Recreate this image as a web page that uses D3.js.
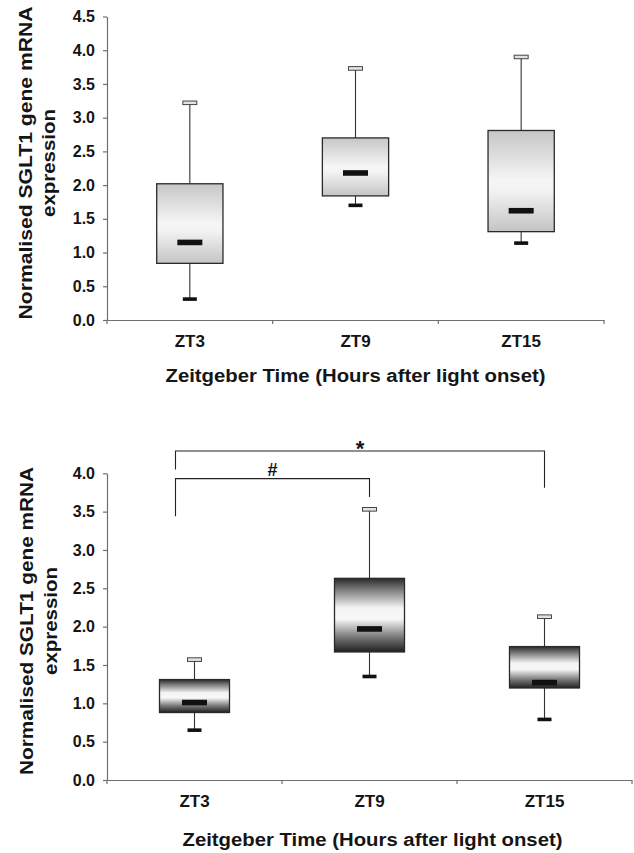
<!DOCTYPE html>
<html>
<head>
<meta charset="utf-8">
<script src="https://cdn.jsdelivr.net/npm/d3@7"></script>
<style>
  html, body { margin: 0; padding: 0; background: #fff; }
  svg { display: block; }
  text { font-family: "Liberation Sans", Arial, Helvetica, sans-serif; font-weight: bold; fill: #151515; }
</style>
</head>
<body>
<svg id="chart" width="634" height="853"></svg>
<script>
// ---------- data ----------
const categories = ["ZT3", "ZT9", "ZT15"];

// Panel A (upper)
const topMin    = [0.31, 1.70, 1.14];
const topQ1     = [0.84, 1.84, 1.31];
const topMedian = [1.15, 2.18, 1.62];
const topQ3     = [2.02, 2.70, 2.81];
const topMax    = [3.22, 3.73, 3.90];
const topTicks  = [0, 0.5, 1.0, 1.5, 2.0, 2.5, 3.0, 3.5, 4.0, 4.5];

// Panel B (lower)
const botMin    = [0.65, 1.35, 0.79];
const botQ1     = [0.88, 1.67, 1.20];
const botMedian = [1.01, 1.97, 1.27];
const botQ3     = [1.31, 2.63, 1.74];
const botMax    = [1.57, 3.53, 2.13];
const botTicks  = [0, 0.5, 1.0, 1.5, 2.0, 2.5, 3.0, 3.5, 4.0];

// significance brackets (lower panel): from/to category, bar level, leg ends (y units)
const sigLabels   = ["#", "*"];
const sigFrom     = ["ZT3", "ZT3"];
const sigTo       = ["ZT9", "ZT15"];
const sigLevel    = [3.93, 4.29];
const sigLeftEnd  = [3.44, 4.05];
const sigRightEnd = [3.69, 3.81];

const xTitle = "Zeitgeber Time (Hours after light onset)";
const yTitle1 = "Normalised SGLT1 gene mRNA";
const yTitle2 = "expression";

// ---------- drawing ----------
const svg = d3.select("#chart");
const defs = svg.append("defs");

const gLight = defs.append("linearGradient").attr("id", "gLight")
  .attr("x1", 0).attr("y1", 0).attr("x2", 0).attr("y2", 1);
[[0, "#c6c6c6"], [0.5, "#f6f6f6"], [0.6, "#f2f2f2"], [1, "#c4c4c4"]]
  .forEach(([o, c]) => gLight.append("stop").attr("offset", o).attr("stop-color", c));

const gDark = defs.append("linearGradient").attr("id", "gDark")
  .attr("x1", 0).attr("y1", 0).attr("x2", 0).attr("y2", 1);
[[0, "#2a2a2a"], [0.12, "#6a6a6a"], [0.4, "#f4f4f4"], [0.55, "#f8f8f8"], [0.8, "#777"], [1, "#202020"]]
  .forEach(([o, c]) => gDark.append("stop").attr("offset", o).attr("stop-color", c));

function drawPanel(p) {
  const x = d3.scaleBand().domain(categories).range([p.left, p.right]).padding(0);
  const y = d3.scaleLinear().domain([0, p.yMax]).range([p.bottom, p.top]);
  const g = svg.append("g");

  // y axis
  const ya = g.append("g").attr("transform", `translate(${p.left},0)`)
    .call(d3.axisLeft(y).tickValues(p.ticks).tickFormat(d3.format(".1f"))
      .tickSize(4).tickSizeOuter(0).tickPadding(8));
  ya.select(".domain").attr("stroke", "#707070").attr("stroke-width", 1.2);
  ya.selectAll(".tick line").attr("stroke", "#707070").attr("stroke-width", 1.2);
  ya.selectAll(".tick text").attr("font-size", 16).attr("font-family", null)
    .style("font-weight", "bold").attr("fill", "#151515");

  // x axis (ticks at band edges, labels centred)
  const xa = g.append("g").attr("transform", `translate(0,${p.bottom})`)
    .call(d3.axisBottom(x).tickSize(0).tickSizeOuter(0).tickPadding(p.xLabelPad));
  xa.select(".domain").attr("stroke", "#707070").attr("stroke-width", 1.2);
  xa.selectAll(".tick text").attr("font-size", 17).attr("font-family", null)
    .style("font-weight", "bold").attr("fill", "#151515");
  const edges = categories.map(c => x(c)).concat([x.range()[1]]);
  xa.selectAll(".edge").data(edges).enter().append("line")
    .attr("x1", d => d).attr("x2", d => d).attr("y1", 0).attr("y2", 4)
    .attr("stroke", "#707070").attr("stroke-width", 1.2);

  const boxW = x.bandwidth() * 0.4;
  const medW = 25, capW = 14;

  categories.forEach((c, i) => {
    const cx = x(c) + x.bandwidth() / 2;
    // whiskers
    g.append("line").attr("x1", cx).attr("x2", cx)
      .attr("y1", y(p.max[i])).attr("y2", y(p.q3[i]))
      .attr("stroke", "#333").attr("stroke-width", 1.1);
    g.append("line").attr("x1", cx).attr("x2", cx)
      .attr("y1", y(p.q1[i])).attr("y2", y(p.min[i]))
      .attr("stroke", "#333").attr("stroke-width", 1.1);
    // box
    g.append("rect").attr("x", cx - boxW / 2).attr("y", y(p.q3[i]))
      .attr("width", boxW).attr("height", y(p.q1[i]) - y(p.q3[i]))
      .attr("fill", `url(#${p.grad})`).attr("stroke", "#2a2a2a").attr("stroke-width", 1.3);
    // median
    g.append("rect").attr("x", cx - medW / 2).attr("y", y(p.median[i]) - 2.8)
      .attr("width", medW).attr("height", 5.6).attr("fill", "#111");
    // caps
    g.append("rect").attr("x", cx - capW / 2).attr("y", y(p.max[i]) - 1.8)
      .attr("width", capW).attr("height", 3.6)
      .attr("fill", "#e2e2e2").attr("stroke", "#333").attr("stroke-width", 0.9);
    g.append("rect").attr("x", cx - capW / 2).attr("y", y(p.min[i]) - 1.8)
      .attr("width", capW).attr("height", 3.6).attr("fill", "#111");
  });

  // titles
  g.append("text").attr("x", (p.left + p.right) / 2 + p.xTitleShift).attr("y", p.xTitleY)
    .attr("text-anchor", "middle").attr("dy", "0.35em").attr("font-size", 18)
    .attr("textLength", 380).attr("lengthAdjust", "spacingAndGlyphs").text(xTitle);
  g.append("text").attr("transform", `translate(${p.yT1x},${p.yTcy}) rotate(-90)`)
    .attr("text-anchor", "middle").attr("font-size", 18)
    .attr("textLength", p.yT1len).attr("lengthAdjust", "spacingAndGlyphs").text(yTitle1);
  g.append("text").attr("transform", `translate(${p.yT2x},${p.yTcy}) rotate(-90)`)
    .attr("text-anchor", "middle").attr("font-size", 18)
    .attr("textLength", 108).attr("lengthAdjust", "spacingAndGlyphs").text(yTitle2);

  return { x, y, g };
}

drawPanel({
  left: 107, right: 604, top: 16.5, bottom: 320, yMax: 4.5, ticks: topTicks,
  min: topMin, q1: topQ1, median: topMedian, q3: topQ3, max: topMax,
  grad: "gLight", xLabelPad: 15, xTitleY: 376, xTitleShift: 0,
  yT1x: 32, yT2x: 55, yTcy: 163, yT1len: 313
});

const B = drawPanel({
  left: 107, right: 632, top: 473.3, bottom: 780, yMax: 4.0, ticks: botTicks,
  min: botMin, q1: botQ1, median: botMedian, q3: botQ3, max: botMax,
  grad: "gDark", xLabelPad: 15, xTitleY: 840, xTitleShift: 3,
  yT1x: 33, yT2x: 57, yTcy: 621, yT1len: 308
});

// significance brackets
sigLabels.forEach((lab, i) => {
  const xL = B.x(sigFrom[i]) + B.x.bandwidth() / 2 - 19;
  const xR = B.x(sigTo[i]) + B.x.bandwidth() / 2;
  const yb = B.y(sigLevel[i]);
  B.g.append("path")
    .attr("d", `M${xL},${B.y(sigLeftEnd[i])}V${yb}H${xR}V${B.y(sigRightEnd[i])}`)
    .attr("fill", "none").attr("stroke", "#222").attr("stroke-width", 1.1);
  B.g.append("text").attr("x", (xL + xR) / 2).attr("y", yb - 3)
    .attr("text-anchor", "middle").attr("font-size", lab === "*" ? 22 : 18)
    .attr("dy", lab === "*" ? "0.35em" : "0")
    .text(lab);
});
</script>
</body>
</html>
